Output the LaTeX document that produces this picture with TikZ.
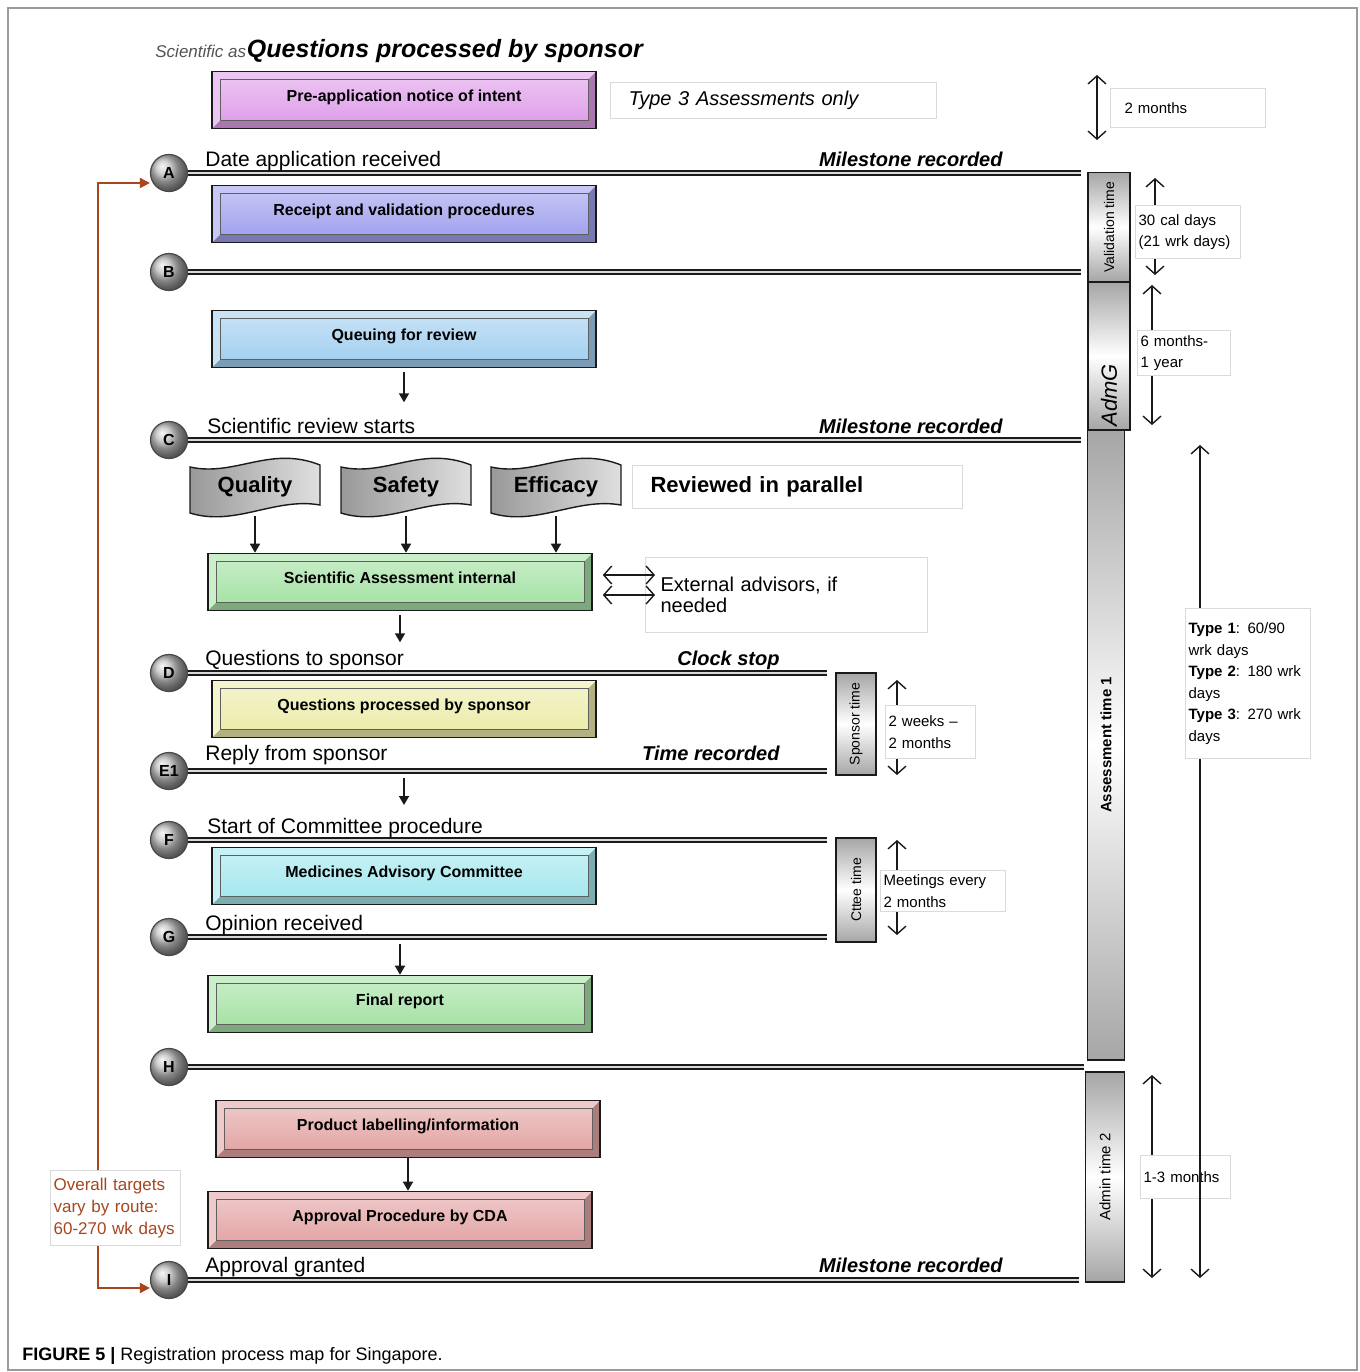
\documentclass[tikz,border=0pt]{standalone}
\usepackage{fontspec}
\setmainfont{Liberation Sans}
\usetikzlibrary{arrows.meta,positioning,calc}
\definecolor{ink}        {HTML}{1A1A1A}
\definecolor{framegray}  {HTML}{9A9A9A}
\definecolor{notegray}   {HTML}{DADADA}
\definecolor{targetbrown}{HTML}{A8461E}
\definecolor{preappc}    {HTML}{E0A0EA}
\definecolor{receiptc}   {HTML}{A2A2EE}
\definecolor{queuec}     {HTML}{A4D0F0}
\definecolor{greenc}     {HTML}{A6E2A6}
\definecolor{yellowc}    {HTML}{ECECAC}
\definecolor{cyanc}      {HTML}{A4E8EE}
\definecolor{rosec}      {HTML}{E4A6A6}

\tikzset{
  procbox/.style={draw=ink, line width=0.8pt, fill=#1!75!black,
    minimum width=192pt, minimum height=28.5pt, inner sep=0pt,
    text height=6pt, text depth=5pt,
    font=\fontsize{8}{10}\selectfont\bfseries,
    path picture={
      \fill[#1!60!white] (path picture bounding box.north west)
        -- (path picture bounding box.north east)
        -- ([shift={(-4pt,-4pt)}]path picture bounding box.north east)
        -- ([shift={(4pt,-4pt)}]path picture bounding box.north west)
        -- ([shift={(4pt,4pt)}]path picture bounding box.south west)
        -- (path picture bounding box.south west) -- cycle;
      \shade[top color=#1!65!white, bottom color=#1]
        ([shift={(4pt,-4pt)}]path picture bounding box.north west) rectangle
        ([shift={(-4pt,4pt)}]path picture bounding box.south east);
      \draw[ink!70, line width=0.5pt]
        ([shift={(4pt,-4pt)}]path picture bounding box.north west) rectangle
        ([shift={(-4pt,4pt)}]path picture bounding box.south east);
    }},
  milestone/.style={circle, draw=ink!80, line width=0.6pt, shading=ball,
    ball color=gray!50, minimum size=18.5pt, inner sep=0pt,
    font=\fontsize{8}{9}\selectfont\bfseries},
  msline/.style={draw=ink, line width=0.8pt, double=gray!30, double distance=1.4pt},
  mslabel/.style={anchor=base west, inner sep=0pt, font=\fontsize{10.5}{12}\selectfont},
  msnote/.style={anchor=base east, inner sep=0pt, font=\fontsize{10}{12}\selectfont\bfseries\itshape},
  flowarrow/.style={draw=ink, line width=0.8pt, -{Triangle[length=4.5pt,width=5pt]}},
  measure/.style={draw=ink, line width=0.7pt, <->, >={Straight Barb[length=4pt,width=9pt]}},
  targetarrow/.style={draw=targetbrown, line width=1pt, -{Triangle[length=5pt,width=5pt]}},
  note/.style={draw=notegray, fill=white, line width=0.6pt, anchor=north west,
    align=left, inner xsep=2.5pt, inner ysep=2pt, font=\fontsize{7.5}{10.8}\selectfont},
  timebar/.style={draw=ink, line width=0.7pt, rotate=90, inner sep=1pt,
    top color=gray!70, bottom color=gray!70, middle color=white,
    font=\fontsize{7}{8}\selectfont},
  bannertext/.style={font=\fontsize{11}{13}\selectfont\bfseries,
    minimum width=62pt, minimum height=29pt, inner sep=0pt},
}

\begin{document}
\begin{tikzpicture}[x=0.5pt,y=-0.5pt]
  \useasboundingbox (0,0) rectangle (1360,1372);
  \draw[framegray, line width=0.6pt] (8,8) rectangle (1357,1370);

  % header
  \node[anchor=base west, inner sep=0pt, text=ink!75, font=\fontsize{8.5}{10}\selectfont\itshape]
    (hdrsmall) at (155,57) {Scientific as};
  \node[anchor=base west, inner sep=0pt, font=\fontsize{12.5}{14}\selectfont\bfseries\itshape]
    (hdr) at (hdrsmall.base east) {Questions processed by sponsor};

  % process boxes
  \node[procbox=preappc]  (preapp)    at (404,100)  {Pre-application notice of intent};
  \node[procbox=receiptc] (receipt)   at (404,214)  {Receipt and validation procedures};
  \node[procbox=queuec]   (queue)     at (404,339)  {Queuing for review};
  \node[procbox=greenc]   (sciass)    at (400,582)  {Scientific Assessment internal};
  \node[procbox=yellowc]  (qproc)     at (404,709)  {Questions processed by sponsor};
  \node[procbox=cyanc]    (mac)       at (404,876)  {Medicines Advisory Committee};
  \node[procbox=greenc]   (final)     at (400,1004) {Final report};
  \node[procbox=rosec]    (labelinfo) at (408,1129) {Product labelling/information};
  \node[procbox=rosec]    (cda)       at (400,1220) {Approval Procedure by CDA};

  % review banners
  \foreach \nm/\cx/\txt in {quality/255/Quality, safety/406/Safety, efficacy/556/Efficacy} {
    \begin{scope}[shift={(\cx,487)}]
      \shade[left color=gray!80, right color=gray!25, draw=ink, line width=0.7pt]
        (-65,-20) .. controls (-20,-10) and (15,-42) .. (65,-22)
        -- (65,18) .. controls (20,10) and (-20,40) .. (-65,26) -- cycle;
    \end{scope}
    \node[bannertext] (\nm) at (\cx,487) {\txt};
    \draw[flowarrow] (\nm.south) -- (\nm.south |- sciass.north);
  }

  % time bars (rotated: north = left side on the page)
  \node[timebar, minimum width=54.5pt, minimum height=21pt] (valbar) at (1109,227) {Validation time};
  \node[timebar, minimum width=74pt, minimum height=21pt] (admbar) at (1109,356) {};
  \node[rotate=90, anchor=west, inner sep=2pt, font=\fontsize{11}{13}\selectfont\itshape]
    (admg) at (admbar.west) {AdmG};
  \node[timebar, minimum width=315pt, minimum height=18.5pt, font=\fontsize{7.5}{9}\selectfont\bfseries]
    (assbar) at (1106,745) {Assessment time 1};
  \node[timebar, minimum width=105pt, minimum height=19.5pt, font=\fontsize{7.5}{9}\selectfont]
    (adm2bar) at (1105,1177) {Admin time 2};
  \node[timebar, minimum width=51pt, minimum height=20pt] (spbar) at (856,724) {Sponsor time};
  \node[timebar, minimum width=52pt, minimum height=20pt] (ctbar) at (856,890) {Cttee time};

  % milestones
  \foreach \nm/\lt/\yy in {mA/A/173, mB/B/272, mC/C/440, mD/D/673, mE/E1/771,
                           mF/F/840, mG/G/937, mH/H/1067, mI/I/1280}
    \node[milestone] (\nm) at (169,\yy) {\lt};
  \foreach \nm/\tb/\gap in {mA/valbar/3pt, mB/admbar/3pt, mC/assbar/3pt, mD/spbar/4pt,
                            mE/spbar/4pt, mF/ctbar/4pt, mG/ctbar/4pt, mH/adm2bar/0.5pt, mI/adm2bar/3pt}
    \draw[msline, shorten >=\gap] (\nm.east) -- (\nm.east -| \tb.north);

  % milestone texts
  \node[mslabel] (lA) at (205,166)  {Date application received};
  \node[mslabel] (lC) at (207,433)  {Scientific review starts};
  \node[mslabel] (lD) at (205,665)  {Questions to sponsor};
  \node[mslabel] (lE) at (205,760)  {Reply from sponsor};
  \node[mslabel] (lF) at (207,833)  {Start of Committee procedure};
  \node[mslabel] (lG) at (205,930)  {Opinion received};
  \node[mslabel] (lI) at (205,1272) {Approval granted};
  \node[msnote] (nA) at (1003,166)  {Milestone recorded};
  \node[msnote] (nC) at (1003,433)  {Milestone recorded};
  \node[msnote] (nD) at (780,665)   {Clock stop};
  \node[msnote] (nE) at (780,760)   {Time recorded};
  \node[msnote] (nI) at (1003,1272) {Milestone recorded};

  % flow arrows
  \draw[flowarrow] ([yshift=-2pt]queue.south) -- ++(0,30);
  \draw[flowarrow] ([yshift=-2pt]sciass.south) -- ++(0,27);
  \draw[flowarrow] ([yshift=-3.5pt]mE.east -| qproc.south) -- ++(0,27);
  \draw[flowarrow] ([yshift=-3.5pt]mG.east -| final.north) -- (final.north);
  \draw[flowarrow] (labelinfo.south) -- (labelinfo.south |- cda.north);

  % notes
  \node[note, inner xsep=9pt, text width=145pt, minimum height=18pt,
    font=\fontsize{10}{12}\selectfont\itshape] (type3) at (610,82) {Type 3 Assessments only};
  \node[note, inner xsep=9pt, text width=147pt, minimum height=21.5pt,
    font=\fontsize{11}{13}\selectfont\bfseries] (parallel) at (632,465) {Reviewed in parallel};
  \node[note, inner xsep=7.5pt, text width=126pt, minimum height=37.5pt,
    font=\fontsize{10}{10.5}\selectfont] (ext) at (645,557) {External advisors, if\\needed};
  \draw[measure] ([xshift=5pt,yshift=3.5pt]sciass.east) -- ([xshift=5pt,yshift=3.5pt]sciass.east -| ext.west);
  \draw[measure] ([xshift=5pt,yshift=-6.5pt]sciass.east) -- ([xshift=5pt,yshift=-6.5pt]sciass.east -| ext.west);

  % durations on the right
  \coordinate (pretop) at (1097,75);   \coordinate (prebot) at (1097,140);
  \coordinate (valtop) at (1155,178);  \coordinate (valbot) at (1155,275);
  \coordinate (admtop) at (1152,285);  \coordinate (admbot) at (1152,425);
  \coordinate (sptop)  at (897,680);   \coordinate (spbot)  at (897,775);
  \coordinate (cttop)  at (897,840);   \coordinate (ctbot)  at (897,935);
  \coordinate (a2top)  at (1152,1075); \coordinate (a2bot)  at (1152,1278);
  \coordinate (asstop) at (1200,445);  \coordinate (assbot) at (1200,1278);
  \draw[measure] (pretop) -- (prebot);
  \draw[measure] (valtop) -- (valbot);
  \draw[measure] (admtop) -- (admbot);
  \draw[measure] (sptop) -- (spbot);
  \draw[measure] (cttop) -- (ctbot);
  \draw[measure] (a2top) -- (a2bot);
  \node[note, inner xsep=7pt, text width=63.5pt, minimum height=19.5pt] (twomonths) at (1110,88) {2 months};
  \node[note, inner xsep=1.5pt, text width=49.5pt, minimum height=26.5pt] (calnote) at (1135,205) {30 cal days\\(21 wrk days)};
  \node[note, inner xsep=1.5pt, text width=43.5pt, minimum height=22.5pt] (sixmonths) at (1137,330) {6 months-\\1 year};
  \node[note, inner xsep=1.5pt, text width=42pt, minimum height=26.5pt] (twoweeks) at (885,705) {2 weeks --\\2 months};
  \node[note, inner xsep=1.5pt, text width=59.5pt, minimum height=20pt] (meetings) at (880,870) {Meetings every\\2 months};
  \node[note, inner xsep=1.5pt, text width=42pt, minimum height=21.5pt] (onethree) at (1140,1155) {1-3 months};
  \draw[measure] (asstop) -- (assbot);
  \node[note, inner xsep=1.5pt, text width=59.5pt, minimum height=75pt] (types) at (1185,608)
    {\textbf{Type 1}: 60/90\\wrk days\\\textbf{Type 2}: 180 wrk\\days\\\textbf{Type 3}: 270 wrk\\days};

  % overall targets
  \node[note, text=targetbrown, inner xsep=1.5pt, text width=62pt, minimum height=37.5pt,
    font=\fontsize{8.5}{11}\selectfont] (targets) at (50,1170) {Overall targets\\vary by route:\\60-270 wk days};
  \coordinate (tgline) at (98,0);
  \draw[targetarrow] (targets.north -| tgline) |- ([yshift=-5pt]mA.west);
  \draw[targetarrow] (targets.south -| tgline) |- ([yshift=-4pt]mI.west);

  % caption
  \node[anchor=base west, inner sep=0pt, font=\fontsize{9}{11}\selectfont]
    (caption) at (22,1360) {\textbf{FIGURE 5 |} Registration process map for Singapore.};
\end{tikzpicture}
\end{document}
